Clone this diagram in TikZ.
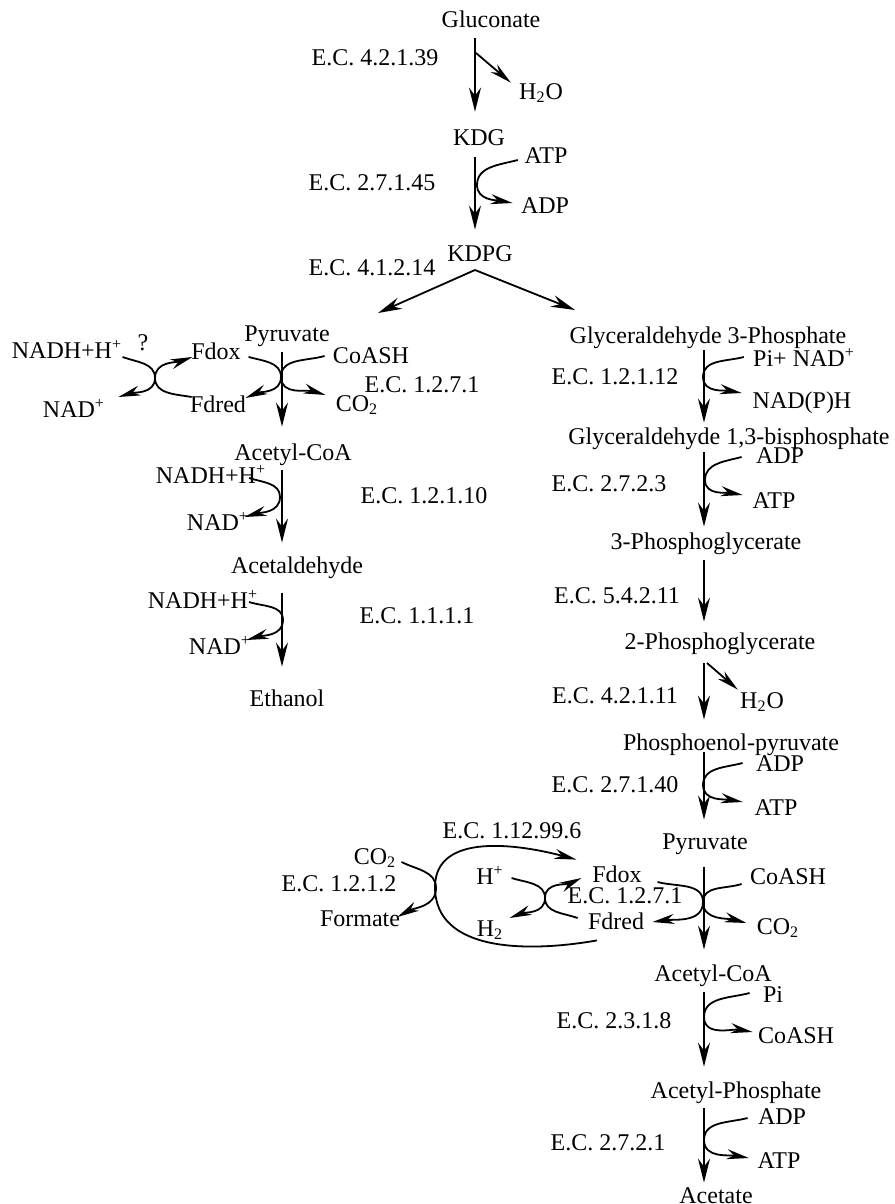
\documentclass[tikz,border=0pt]{standalone}
\usepackage{fontspec}
\setmainfont{Liberation Serif}
\usetikzlibrary{arrows.meta}

\begin{document}
\begin{tikzpicture}[x=0.5pt,y=0.5pt,
  every node/.style={inner sep=0pt,text height=8pt,text depth=0pt,font=\fontsize{12}{14}\selectfont},
  main/.style={-{Stealth[length=12pt,width=6pt,inset=4pt]},line width=0.9pt},
  side/.style={-{Stealth[length=11pt,width=5pt,inset=3.5pt]},line width=0.9pt}]

\useasboundingbox (0,0) rectangle (894,-1204);

\coordinate (c1) at (475,0);
\coordinate (cL) at (282,0);
\coordinate (cR) at (704,0);

% upper trunk
\node (gluc) at (491,-20) {Gluconate};
\node (ec1) at (375,-58) {E.C. 4.2.1.39};
\node (h2oA) at (541,-91) {H\textsubscript{2}O};
\node (kdg) at (479,-138) {KDG};
\node (atpA) at (546,-155) {ATP};
\node (adpA) at (545,-205) {ADP};
\node (ec2) at (372,-183) {E.C. 2.7.1.45};
\node (kdpg) at (480,-253) {KDPG};
\node (ec3) at (372,-267) {E.C. 4.1.2.14};

% ethanol branch
\node (pyrL) at (287,-333) {Pyruvate};
\node (fdoxL) at (216,-351) {Fdox};
\node (fdredL) at (218,-404) {Fdred};
\node (coashL) at (371,-355) {CoASH};
\node (co2L) at (357,-403) {CO\textsubscript{2}};
\node (ec4) at (422,-384) {E.C. 1.2.7.1};
\node (nadhA) at (67,-350) {NADH+H\textsuperscript{+}};
\node (qmark) at (143,-342) {?};
\node (nadA) at (74,-409) {NAD\textsuperscript{+}};
\node (acoaL) at (293,-452) {Acetyl-CoA};
\node (nadhB) at (211,-475) {NADH+H\textsuperscript{+}};
\node (nadB) at (218,-522) {NAD\textsuperscript{+}};
\node (ec5) at (424,-495) {E.C. 1.2.1.10};
\node (acald) at (297,-565) {Acetaldehyde};
\node (nadhC) at (203,-600) {NADH+H\textsuperscript{+}};
\node (nadC) at (220,-646) {NAD\textsuperscript{+}};
\node (ec6) at (417,-615) {E.C. 1.1.1.1};
\node (etoh) at (287,-698) {Ethanol};

% acetate branch
\node (g3p) at (708,-335) {Glyceraldehyde 3-Phosphate};
\node (pinad) at (804,-358) {Pi+ NAD\textsuperscript{+}};
\node (nadph) at (802,-400) {NAD(P)H};
\node (ec7) at (615,-376) {E.C. 1.2.1.12};
\node (gbp) at (729,-436) {Glyceraldehyde 1,3-bisphosphate};
\node (adpB) at (780,-455) {ADP};
\node (atpB) at (774,-500) {ATP};
\node (ec8) at (609,-483) {E.C. 2.7.2.3};
\node (pgA) at (706,-541) {3-Phosphoglycerate};
\node (ec9) at (617,-595) {E.C. 5.4.2.11};
\node (pgB) at (720,-641) {2-Phosphoglycerate};
\node (h2oB) at (762,-700) {H\textsubscript{2}O};
\node (ec10) at (615,-695) {E.C. 4.2.1.11};
\node (pep) at (731,-742) {Phosphoenol-pyruvate};
\node (adpC) at (780,-763) {ADP};
\node (atpC) at (776,-807) {ATP};
\node (ec11) at (615,-784) {E.C. 2.7.1.40};
\node (pyrR) at (705,-841) {Pyruvate};
\node (coashR) at (788,-876) {CoASH};
\node (co2R) at (778,-926) {CO\textsubscript{2}};
\node (fdoxR) at (617,-874) {Fdox};
\node (fdredR) at (616,-921) {Fdred};
\node (ec12) at (625,-895) {E.C. 1.2.7.1};
\node (ec13) at (512,-830) {E.C. 1.12.99.6};
\node (co2F) at (375,-856) {CO\textsubscript{2}};
\node (ec14) at (339,-883) {E.C. 1.2.1.2};
\node (form) at (360,-918) {Formate};
\node (hplus) at (490,-876) {H\textsuperscript{+}};
\node (htwo) at (490,-928) {H\textsubscript{2}};
\node (acoaR) at (713,-973) {Acetyl-CoA};
\node (piA) at (773,-994) {Pi};
\node (coashS) at (796,-1035) {CoASH};
\node (ec15) at (614,-1020) {E.C. 2.3.1.8};
\node (acp) at (736,-1090) {Acetyl-Phosphate};
\node (adpD) at (782,-1116) {ADP};
\node (atpD) at (779,-1160) {ATP};
\node (ec16) at (608,-1142) {E.C. 2.7.2.1};
\node (acet) at (716,-1195) {Acetate};

% touch points of the side reactions
\coordinate (hA) at (476,-53);
\coordinate (tA) at (477,-185);
\coordinate (split) at (475,-270);
\coordinate (toL) at (378,-313);
\coordinate (toR) at (575,-310);
\coordinate (tL1) at (281,-377);
\coordinate (tX1) at (155,-378);
\coordinate (tL2) at (280,-497);
\coordinate (tL3) at (283,-620);
\coordinate (tR1) at (703,-377);
\coordinate (tR2) at (705,-480);
\coordinate (hB) at (707,-663);
\coordinate (tR3) at (703,-785);
\coordinate (tR4) at (703,-902);
\coordinate (tM) at (545,-898);
\coordinate (tF) at (436,-888);
\coordinate (lpL) at (435,-887);
\coordinate (tR5) at (704,-1017);
\coordinate (tR6) at (704,-1140);

\draw[main,shorten <=5pt,shorten >=9pt] (gluc.south -| c1) -- (kdg.north -| c1);
\draw[main,shorten <=5.5pt,shorten >=7.5pt] (kdg.south -| c1) -- (kdpg.north -| c1);
\draw[main] (split) -- (toL);
\draw[main] (split) -- (toR);

\draw[main,shorten <=5.5pt,shorten >=8.5pt] (pyrL.south -| cL) -- (acoaL.north -| cL);
\draw[main,shorten <=5pt,shorten >=7pt] (acoaL.south -| cL) -- (acald.north -| cL);
\draw[main,shorten <=10pt,shorten >=11.5pt] (acald.south -| cL) -- (etoh.north -| cL);

\draw[main,shorten <=3.5pt,shorten >=2.5pt] (g3p.south -| cR) -- (gbp.north -| cR);
\draw[main,shorten <=4pt,shorten >=3pt] (gbp.south -| cR) -- (pgA.north -| cR);
\draw[main,shorten <=5.5pt,shorten >=5.5pt] (pgA.south -| cR) -- (pgB.north -| cR);
\draw[main,shorten <=7pt,shorten >=7pt] (pgB.south -| cR) -- (pep.north -| cR);
\draw[main,shorten <=1pt,shorten >=6.5pt] (pep.south -| cR) -- (pyrR.north -| cR);
\draw[main,shorten <=9pt,shorten >=7.5pt] (pyrR.south -| cR) -- (acoaR.north -| cR);
\draw[main,shorten <=5.5pt,shorten >=7.5pt] (acoaR.south -| cR) -- (acp.north -| cR);
\draw[main,shorten <=5pt,shorten >=2pt] (acp.south -| cR) -- (acet.north -| cR);

\draw[side] (hA) -- ([shift={(-8,0)}]h2oA.north west);
\draw[side] ([shift={(-6.5,-5)}]atpA.west) to[out=195,in=90] (tA) to[out=-90,in=170] ([shift={(-8,2)}]adpA.west);

\draw[side] ([shift={(7.5,-6)}]fdoxL.east) to[out=-15,in=90] (tL1) to[out=-90,in=23] ([shift={(-1,6)}]fdredL.east);
\draw[side] ([shift={(-8,-1)}]coashL.west) to[out=196,in=90] (tL1) to[out=-90,in=163] ([shift={(-10,8)}]co2L.west);
\draw[side] ([shift={(0,-7)}]nadhA.east) to[out=-20,in=90] (tX1) to[out=-90,in=17] ([shift={(13,12)}]nadA.east);
\draw[side] ([shift={(2,7)}]fdredL.west) to[out=170,in=-90] (tX1) to[out=90,in=199] ([shift={(1.5,-6)}]fdoxL.west);
\draw[side] ([shift={(-17.5,-3)}]nadhB.east) to[out=-18,in=90] (tL2) to[out=-90,in=16] ([shift={(-5,5)}]nadB.east);
\draw[side] ([shift={(-9.5,-2)}]nadhC.east) to[out=-18,in=90] (tL3) to[out=-90,in=16] ([shift={(-5,6)}]nadC.east);

\draw[side] ([shift={(-9,1)}]pinad.west) to[out=195,in=90] (tR1) to[out=-90,in=170] ([shift={(-10.5,7)}]nadph.west);
\draw[side] ([shift={(-14,-2)}]adpB.west) to[out=195,in=90] (tR2) to[out=-90,in=170] ([shift={(-9.5,5)}]atpB.west);
\draw[side] (hB) -- ([shift={(-2,2)}]h2oB.north west);
\draw[side] ([shift={(-13,0)}]adpC.west) to[out=195,in=90] (tR3) to[out=-90,in=170] ([shift={(-11.5,5)}]atpC.west);
\draw[side] ([shift={(-8,-8)}]coashR.west) to[out=198,in=90] (tR4) to[out=-90,in=165] ([shift={(-10,3)}]co2R.west);
\draw[side] ([shift={(15.5,-8)}]fdoxR.east) to[out=-15,in=90] (tR4) to[out=-90,in=8] ([shift={(8,-1)}]fdredR.east);
\draw[side] ([shift={(7.5,-2)}]hplus.east) to[out=-18,in=90] (tM) to[out=-90,in=21] ([shift={(6,10)}]htwo.east);
\draw[side] ([shift={(-10,3)}]fdredR.west) to[out=160,in=-90] (tM) to[out=90,in=205] ([shift={(-10.5,-4)}]fdoxR.west);
\draw[side] ([shift={(5,-6)}]co2F.east) to[out=-27,in=90] (tF) to[out=-90,in=29] ([shift={(-3,1)}]form.east);
\draw[side] ([shift={(-19,-11)}]fdredR.south) to[out=190,in=-90] (lpL) to[out=90,in=165] ([shift={(-15.5,6)}]fdoxR.north west);
\draw[side] ([shift={(-13,1)}]piA.west) to[out=195,in=90] (tR5) to[out=-90,in=170] ([shift={(-5,3)}]coashS.west);
\draw[side] ([shift={(-10,-2)}]adpD.west) to[out=195,in=90] (tR6) to[out=-90,in=170] ([shift={(-8.5,2)}]atpD.west);

\end{tikzpicture}
\end{document}
